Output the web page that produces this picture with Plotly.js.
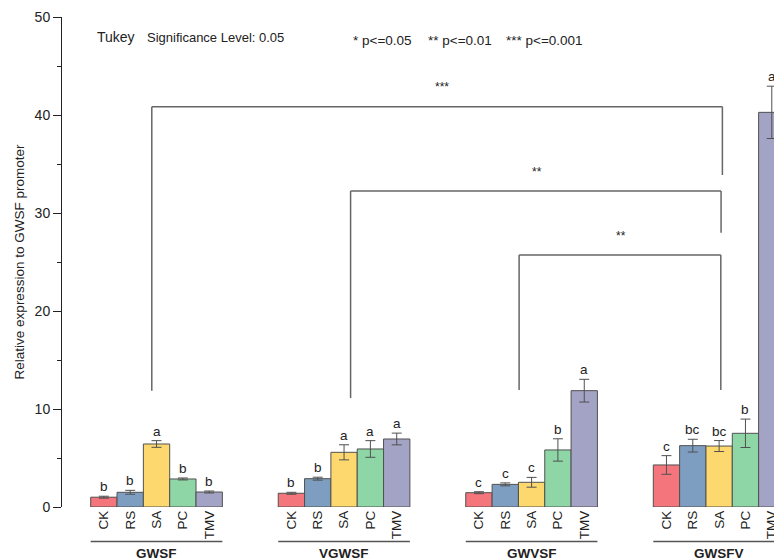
<!DOCTYPE html>
<html>
<head>
<meta charset="utf-8">
<script src="https://cdn.plot.ly/plotly-3.0.1.min.js"></script>
<style>html,body{margin:0;padding:0;background:#fff;overflow:hidden;}</style>
</head>
<body>
<div id="chart" style="width:774px;height:560px;"></div>
<script>
// ---- data ----
var groups = ['GWSF', 'VGWSF', 'GWVSF', 'GWSFV'];
var treatments = ['CK', 'RS', 'SA', 'PC', 'TMV'];
var ckValues  = [1.00, 1.40, 1.46, 4.29];
var rsValues  = [1.50, 2.89, 2.31, 6.26];
var saValues  = [6.43, 5.58, 2.52, 6.22];
var pcValues  = [2.86, 5.92, 5.82, 7.52];
var tmvValues = [1.53, 6.94, 11.87, 40.27];
var ckErrors  = [0.10, 0.10, 0.10, 0.95];
var rsErrors  = [0.20, 0.15, 0.15, 0.65];
var saErrors  = [0.34, 0.77, 0.50, 0.56];
var pcErrors  = [0.10, 0.85, 1.14, 1.45];
var tmvErrors = [0.10, 0.60, 1.16, 2.67];
var ckLetters  = ['b', 'b', 'c', 'c'];
var rsLetters  = ['b', 'b', 'c', 'bc'];
var saLetters  = ['a', 'a', 'c', 'bc'];
var pcLetters  = ['b', 'a', 'b', 'b'];
var tmvLetters = ['b', 'a', 'a', 'a'];
// significance brackets (x in bar units, y in axis units)
var bracketX0 = [1.82, 9.37, 15.77];
var bracketX1 = [23.49, 23.44, 23.43];
var bracketTop = [40.85, 32.24, 25.71];
var bracketLeftEnd = [11.87, 11.12, 11.94];
var bracketRightEnd = [33.88, 27.99, 11.94];
var bracketLabels = ['***', '**', '**'];
var bracketLabelX = [12.83, 16.45, 19.63];
var bracketLabelY = [42.86, 34.23, 27.65];

// ---- layout constants ----
var GROUP_STEP = 7.122;
var colors = ['#F4767C', '#7D9EC0', '#FDD86F', '#8FD6A6', '#A3A3C5'];
var values = [ckValues, rsValues, saValues, pcValues, tmvValues];
var errors = [ckErrors, rsErrors, saErrors, pcErrors, tmvErrors];
var letters = [ckLetters, rsLetters, saLetters, pcLetters, tmvLetters];
var txtFont = 'Liberation Sans, Arial, sans-serif';

function xpos(g, j) { return g * GROUP_STEP + j; }

var traces = [];
var annotations = [];
var tickvals = [], ticktext = [];
treatments.forEach(function (t, j) {
  var xs = groups.map(function (g, gi) { return xpos(gi, j); });
  traces.push({
    type: 'bar', name: t, x: xs, y: values[j], width: 1,
    marker: {color: colors[j], line: {color: '#505050', width: 1}},
    error_y: {type: 'data', array: errors[j], visible: true, color: '#505050', thickness: 1, width: 5},
    hoverinfo: 'x+y'
  });
  groups.forEach(function (g, gi) {
    annotations.push({
      xref: 'x', yref: 'y', x: xs[gi], y: values[j][gi] + errors[j][gi],
      text: letters[j][gi], showarrow: false, yanchor: 'bottom', xanchor: 'center',
      font: {family: txtFont, size: 13.5, color: '#222'}
    });
  });
});
groups.forEach(function (g, gi) {
  treatments.forEach(function (t, j) { tickvals.push(xpos(gi, j)); ticktext.push(t); });
});

var shapes = [];
groups.forEach(function (g, gi) {
  shapes.push({type: 'line', xref: 'x', yref: 'paper', x0: xpos(gi, 0) - 0.5, x1: xpos(gi, 4) + 0.5,
    y0: -0.0704, y1: -0.0704, line: {color: '#555', width: 1.5}});
  annotations.push({xref: 'x', yref: 'paper', x: xpos(gi, 2), y: -0.094, yanchor: 'middle',
    text: '<b>' + g + '</b>', showarrow: false,
    font: {family: txtFont, size: 13.5, color: '#222'}});
});
bracketLabels.forEach(function (lab, k) {
  var lc = {color: '#666', width: 1.5};
  shapes.push({type: 'line', xref: 'x', yref: 'y', x0: bracketX0[k], x1: bracketX1[k], y0: bracketTop[k], y1: bracketTop[k], line: lc});
  shapes.push({type: 'line', xref: 'x', yref: 'y', x0: bracketX0[k], x1: bracketX0[k], y0: bracketTop[k], y1: bracketLeftEnd[k], line: lc});
  shapes.push({type: 'line', xref: 'x', yref: 'y', x0: bracketX1[k], x1: bracketX1[k], y0: bracketTop[k], y1: bracketRightEnd[k], line: lc});
  annotations.push({xref: 'x', yref: 'y', x: bracketLabelX[k], y: bracketLabelY[k], text: lab, showarrow: false,
    yanchor: 'middle', font: {family: txtFont, size: 12, color: '#222'}});
});

annotations.push({xref: 'paper', yref: 'paper', x: (95 - 62) / 712, y: (507 - 37) / 490, xanchor: 'left', yanchor: 'middle',
  text: 'Tukey', showarrow: false, font: {family: txtFont, size: 14, color: '#222'}});
annotations.push({xref: 'paper', yref: 'paper', x: (145 - 62) / 712, y: (507 - 38) / 490, xanchor: 'left', yanchor: 'middle',
  text: 'Significance Level: 0.05', showarrow: false, font: {family: txtFont, size: 13, color: '#222'}});
annotations.push({xref: 'paper', yref: 'paper', x: (351 - 62) / 712, y: (507 - 40) / 490, xanchor: 'left', yanchor: 'middle',
  text: '* p<=0.05', showarrow: false, font: {family: txtFont, size: 13.5, color: '#222'}});
annotations.push({xref: 'paper', yref: 'paper', x: (426 - 62) / 712, y: (507 - 40) / 490, xanchor: 'left', yanchor: 'middle',
  text: '** p<=0.01', showarrow: false, font: {family: txtFont, size: 13.5, color: '#222'}});
annotations.push({xref: 'paper', yref: 'paper', x: (504 - 62) / 712, y: (507 - 40) / 490, xanchor: 'left', yanchor: 'middle',
  text: '*** p<=0.001', showarrow: false, font: {family: txtFont, size: 13.5, color: '#222'}});

var layout = {
  width: 774, height: 560,
  margin: {l: 62, r: 0, t: 17, b: 53, pad: 0},
  paper_bgcolor: '#fff', plot_bgcolor: '#fff',
  showlegend: false, barmode: 'overlay',
  font: {family: txtFont, color: '#222'},
  xaxis: {range: [-1.59, 25.45], showgrid: false, zeroline: false, showline: false,
    tickmode: 'array', tickvals: tickvals, ticktext: ticktext, tickangle: -90, ticks: '',
    ticklabeloverflow: 'allow',
    tickfont: {family: txtFont, size: 13.5, color: '#222'}, fixedrange: true},
  yaxis: {range: [0, 50], showgrid: false, zeroline: false, showline: true, linecolor: '#222', linewidth: 1,
    ticks: 'outside', ticklen: 8, tickwidth: 1, tickcolor: '#222', dtick: 10, tick0: 0,
    minor: {dtick: 5, ticks: 'outside', ticklen: 4, tickcolor: '#222'},
    tickfont: {family: txtFont, size: 14, color: '#222'},
    title: {text: 'Relative expression to GWSF promoter', font: {family: txtFont, size: 13.5, color: '#222'}, standoff: 6},
    fixedrange: true},
  shapes: shapes,
  annotations: annotations
};

Plotly.newPlot('chart', traces, layout, {displayModeBar: false, staticPlot: true});
</script>
</body>
</html>
